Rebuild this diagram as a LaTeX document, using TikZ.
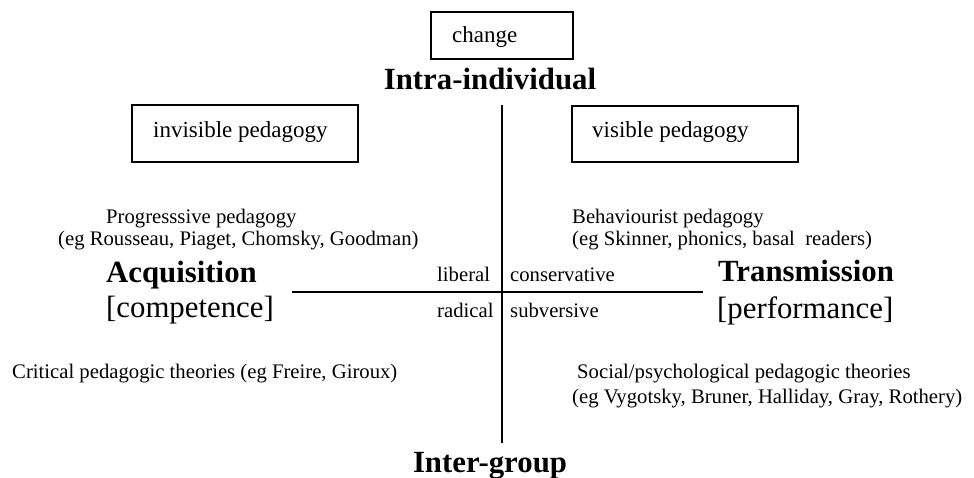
\documentclass[tikz,border=0pt]{standalone}
\usepackage{fontspec}
\setmainfont{Liberation Serif}
\begin{document}
\begin{tikzpicture}[x=1pt,y=-1pt,
  txt/.style={anchor=base west,inner sep=0pt,font=\fontsize{20.7}{24}\selectfont},
  big/.style={anchor=base west,inner sep=0pt,font=\fontsize{30.8}{34}\selectfont},
  bigbold/.style={big,font=\fontsize{30.8}{34}\selectfont\bfseries},
  boxlabel/.style={anchor=base west,inner sep=0pt,font=\fontsize{23}{27}\selectfont},
  frame/.style={draw=black,line width=1.3pt},
  axis/.style={draw=black,line width=1.8pt}]
\useasboundingbox (0,0) rectangle (974,478);

% framed labels
\draw[frame] (431,12) rectangle (573,59);
\node[boxlabel] (change) at (452,43) {change};
\draw[frame] (132,105) rectangle (358,162);
\node[boxlabel] (invis) at (153,138) {invisible pedagogy};
\draw[frame] (572,106) rectangle (798,162);
\node[boxlabel] (vis) at (592,138) {visible pedagogy};

% poles of the two axes
\node[bigbold,anchor=base] (intra) at (490,90) {Intra-individual};
\node[bigbold,anchor=base] (inter) at (490,472) {Inter-group};
\node[bigbold] (acq) at (106,283) {Acquisition};
\node[big] (comp) at (106,317) {[competence]};
\node[bigbold] (trans) at (718,282) {Transmission};
\node[big] (perf) at (717,318) {[performance]};

% axes
\coordinate (vtop) at (502,105);
\coordinate (vbot) at (502,443);
\coordinate (hleft) at (292,292);
\coordinate (hright) at (703,292);
\draw[axis] (vtop) -- (vbot);
\draw[axis] (hleft) -- (hright);

% quadrant labels at the crossing
\node[txt] (lib) at (437,282) {liberal};
\node[txt] (rad) at (437,317) {radical};
\node[txt] (cons) at (510,282) {conservative};
\node[txt] (subv) at (510,317) {subversive};

% theories in each quadrant
\node[txt] (prog1) at (106,224) {Progresssive pedagogy};
\node[txt] (prog2) at (58,246) {(eg Rousseau, Piaget, Chomsky, Goodman)};
\node[txt] (beh1) at (572,224) {Behaviourist pedagogy};
\node[txt] (beh2) at (572,246) {(eg Skinner, phonics, basal\ \ readers)};
\node[txt] (crit) at (12,378) {Critical pedagogic theories (eg Freire, Giroux)};
\node[txt] (soc1) at (577,378) {Social/psychological pedagogic theories};
\node[txt] (soc2) at (572,403) {(eg Vygotsky, Bruner, Halliday, Gray, Rothery)};
\end{tikzpicture}
\end{document}
